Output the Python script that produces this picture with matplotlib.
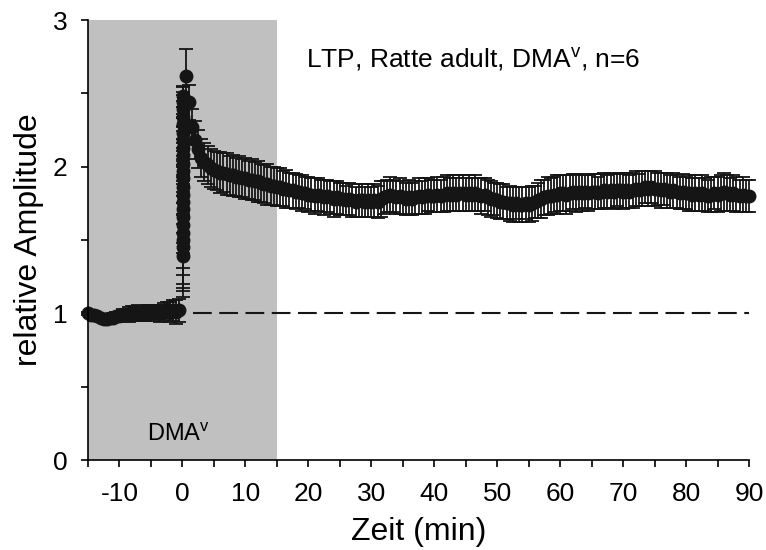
import numpy as np
import matplotlib
matplotlib.use("Agg")
import matplotlib.pyplot as plt

plt.rcParams['font.family'] = ['Liberation Sans', 'DejaVu Sans']
plt.rcParams['mathtext.fontset'] = 'custom'
plt.rcParams['mathtext.rm'] = 'Liberation Sans'
plt.rcParams['axes.unicode_minus'] = False

ink = '#151515'

# baseline before tetanus, every 0.5 min from -15 to -0.5
base_t = np.arange(-15, 0, 0.5)
base_v = [1.00, 0.99, 0.99, 0.98, 0.97, 0.96, 0.96, 0.97, 0.97, 0.98,
          0.98, 0.99, 0.99, 0.99, 1.00, 1.00, 1.01, 1.00, 1.00, 1.01,
          1.01, 1.00, 1.01, 1.00, 1.01, 1.02, 1.01, 1.02, 1.01, 1.02]
base_e = [0.01, 0.01, 0.01, 0.02, 0.02, 0.02, 0.02, 0.02, 0.03, 0.03,
          0.03, 0.04, 0.04, 0.05, 0.05, 0.05, 0.05, 0.05, 0.05, 0.05,
          0.05, 0.05, 0.05, 0.06, 0.06, 0.06, 0.07, 0.07, 0.08, 0.08]

# responses during the tetanus (compressed at t ~ 0)
tet_v = [1.39, 1.45, 1.50, 1.55, 1.60, 1.66, 1.71, 1.76, 1.81, 1.86, 1.92,
         1.97, 2.02, 2.08, 2.13, 2.18, 2.23, 2.29, 2.34, 2.39, 2.44, 2.48]
tet_e = [0.28, 0.30, 0.33, 0.35, 0.34, 0.35, 0.30, 0.28, 0.26, 0.25, 0.24,
         0.22, 0.22, 0.20, 0.20, 0.18, 0.18, 0.16, 0.15, 0.12, 0.10, 0.07]
tet_t = [0.12] * len(tet_v)

# after tetanus, every 0.5 min from 0.5 to 90
post_t = np.arange(0.5, 90.5, 0.5)
post_v = [2.62, 2.44, 2.27, 2.18, 2.12, 2.06, 2.03, 2.01, 1.99, 1.98,
          1.97, 1.96, 1.96, 1.95, 1.94, 1.94, 1.93, 1.93, 1.92, 1.92,
          1.91, 1.91, 1.90, 1.90, 1.89, 1.88, 1.88, 1.87, 1.87, 1.86,
          1.86, 1.85, 1.85, 1.84, 1.84, 1.83, 1.83, 1.82, 1.82, 1.81,
          1.81, 1.80, 1.81, 1.80, 1.79, 1.80, 1.79, 1.78, 1.79, 1.78,
          1.78, 1.77, 1.78, 1.77, 1.76, 1.77, 1.77, 1.76, 1.77, 1.76,
          1.77, 1.76, 1.78, 1.79, 1.80, 1.81, 1.80, 1.79, 1.80, 1.79,
          1.78, 1.79, 1.78, 1.79, 1.80, 1.79, 1.80, 1.81, 1.80, 1.80,
          1.81, 1.80, 1.81, 1.82, 1.81, 1.82, 1.81, 1.82, 1.82, 1.81,
          1.82, 1.81, 1.82, 1.81, 1.80, 1.81, 1.79, 1.78, 1.78, 1.77,
          1.76, 1.76, 1.75, 1.75, 1.74, 1.75, 1.74, 1.74, 1.75, 1.74,
          1.75, 1.76, 1.77, 1.78, 1.79, 1.80, 1.80, 1.81, 1.81, 1.82,
          1.82, 1.81, 1.82, 1.83, 1.82, 1.83, 1.82, 1.83, 1.82, 1.83,
          1.83, 1.82, 1.83, 1.84, 1.83, 1.84, 1.83, 1.84, 1.84, 1.83,
          1.84, 1.83, 1.84, 1.85, 1.84, 1.85, 1.86, 1.85, 1.86, 1.85,
          1.85, 1.84, 1.85, 1.84, 1.83, 1.84, 1.83, 1.82, 1.83, 1.82,
          1.82, 1.81, 1.82, 1.81, 1.82, 1.81, 1.80, 1.81, 1.82, 1.81,
          1.82, 1.83, 1.82, 1.81, 1.82, 1.81, 1.80, 1.81, 1.80, 1.80]
post_e = [0.18, 0.12, 0.12, 0.13, 0.13, 0.13, 0.13, 0.13, 0.13, 0.13,
          0.13, 0.14, 0.13, 0.14, 0.13, 0.14, 0.13, 0.14, 0.13, 0.14,
          0.13, 0.14, 0.13, 0.14, 0.13, 0.13, 0.14, 0.13, 0.13, 0.13,
          0.13, 0.12, 0.13, 0.12, 0.12, 0.12, 0.11, 0.12, 0.11, 0.12,
          0.11, 0.12, 0.11, 0.11, 0.12, 0.11, 0.11, 0.12, 0.11, 0.11,
          0.11, 0.10, 0.11, 0.11, 0.10, 0.11, 0.11, 0.10, 0.11, 0.10,
          0.11, 0.11, 0.12, 0.11, 0.11, 0.12, 0.11, 0.11, 0.12, 0.11,
          0.11, 0.12, 0.11, 0.11, 0.12, 0.11, 0.12, 0.11, 0.11, 0.11,
          0.12, 0.11, 0.12, 0.12, 0.11, 0.12, 0.11, 0.12, 0.12, 0.11,
          0.12, 0.11, 0.12, 0.11, 0.12, 0.11, 0.12, 0.12, 0.11, 0.12,
          0.12, 0.12, 0.11, 0.12, 0.12, 0.11, 0.12, 0.12, 0.11, 0.12,
          0.12, 0.11, 0.12, 0.13, 0.12, 0.13, 0.12, 0.12, 0.13, 0.12,
          0.12, 0.13, 0.12, 0.12, 0.13, 0.12, 0.12, 0.11, 0.12, 0.12,
          0.12, 0.11, 0.12, 0.12, 0.11, 0.12, 0.12, 0.11, 0.12, 0.12,
          0.12, 0.11, 0.12, 0.12, 0.11, 0.12, 0.11, 0.12, 0.11, 0.12,
          0.11, 0.12, 0.11, 0.12, 0.11, 0.12, 0.11, 0.11, 0.12, 0.11,
          0.12, 0.11, 0.12, 0.11, 0.12, 0.11, 0.11, 0.12, 0.11, 0.12,
          0.12, 0.13, 0.12, 0.11, 0.12, 0.12, 0.11, 0.12, 0.11, 0.11]

drug_start, drug_end = -15, 15
baseline_level = 1.0

fig = plt.figure(figsize=(7.66, 5.5), dpi=100)
ax = fig.add_axes([0.1149, 0.1636, 0.8629, 0.8])

ax.axvspan(drug_start, drug_end, color='#c0c0c0', lw=0, zorder=0)
ax.plot([1.7, 90], [baseline_level, baseline_level], color=ink, lw=1.5,
        dashes=(9, 3.6), zorder=1)

for t, v, e in [(base_t, base_v, base_e), (tet_t, tet_v, tet_e),
                (post_t, post_v, post_e)]:
    ax.errorbar(t, v, yerr=e, fmt='o', color=ink, ms=9, mec=ink,
                elinewidth=1.3, capsize=5, capthick=1.3, clip_on=False,
                zorder=3)

ax.set_xlim(-15, 90)
ax.set_ylim(0, 3)
ax.set_xticks(np.arange(-10, 91, 10))
ax.set_xticks(np.arange(-15, 91, 10), minor=True)
ax.set_yticks([0, 1, 2, 3])
ax.set_yticks([0.5, 1.5, 2.5], minor=True)
for s in ['top', 'right']:
    ax.spines[s].set_visible(False)
for s in ['left', 'bottom']:
    ax.spines[s].set_linewidth(1.2)
    ax.spines[s].set_zorder(4)
ax.tick_params(which='both', direction='out', length=5, width=1.3,
               color=ink)
ax.tick_params(axis='x', labelsize=19, pad=11)
ax.tick_params(axis='y', labelsize=19, pad=10)

ax.set_xlabel('Zeit (min)', fontsize=23, labelpad=8)
ax.set_ylabel('relative Amplitude', fontsize=23, labelpad=6)

ax.text(19.65, 2.68, r'LTP, Ratte adult, DMA$^{\mathregular{v}}$, n=6',
        fontsize=19, ha='left', va='baseline')
ax.text(-5.6, 0.13, r'DMA$^{\mathregular{v}}$', fontsize=17,
        ha='left', va='baseline')

plt.savefig('out.png', dpi=100)
